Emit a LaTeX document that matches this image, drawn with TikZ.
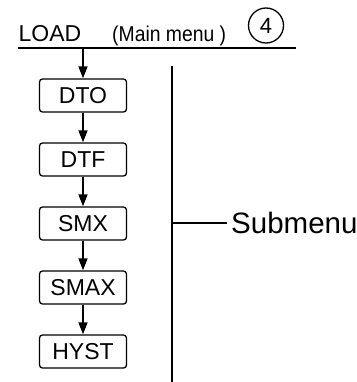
\documentclass[tikz,border=0pt]{standalone}
\usepackage{fontspec}
\setmainfont{Liberation Sans}
\newfontfamily\narrowfont{Liberation Sans}[FakeStretch=0.9]
\usetikzlibrary{arrows.meta}
\begin{document}
\begin{tikzpicture}[x=1pt,y=-1pt,
  menubox/.style={draw, line width=1.3pt, rounded corners=3pt, minimum width=87pt, minimum height=33pt, inner sep=0pt, font=\fontsize{23}{25}\selectfont},
  flow/.style={line width=1.5pt, -{Triangle[length=12pt,width=9pt]}},
  rule/.style={line width=1.5pt}]
\useasboundingbox (0,0) rectangle (356,382);
% header
\node[anchor=base west, inner sep=0pt, font=\fontsize{23}{24}\selectfont] (load) at (18.5,41.5) {LOAD};
\node[anchor=base west, inner sep=0pt, font=\narrowfont\fontsize{21.5}{23}\selectfont] (mm) at (112,41.5) {(Main menu )};
\node[circle, draw, line width=1.3pt, minimum size=35pt, inner sep=0pt, font=\fontsize{22}{24}\selectfont] (four) at (266,25.5) {4};
\coordinate (ml) at (18,48);
\coordinate (mr) at (296,48);
\draw[rule] (ml) -- (mr);
% boxes
\node[menubox] (dto) at (83,95.5) {DTO};
\node[menubox] (dtf) at (83,159.5) {DTF};
\node[menubox] (smx) at (83,223.5) {SMX};
\node[menubox] (smax) at (83,287.5) {SMAX};
\node[menubox] (hyst) at (83,351.5) {HYST};
\coordinate (start) at (83,48);
\draw[flow] (start) -- (dto.north);
\draw[flow] (dto) -- (dtf);
\draw[flow] (dtf) -- (smx);
\draw[flow] (smx) -- (smax);
\draw[flow] (smax) -- (hyst);
% submenu bracket
\coordinate (vt) at (172,66);
\coordinate (vb) at (172,382);
\coordinate (tk) at (172,223);
\draw[rule] (vt) -- (vb);
\node[anchor=west, inner xsep=4pt, inner ysep=0pt, font=\fontsize{29.5}{31}\selectfont] (sub) at (227,223) {Submenu};
\draw[rule] (tk) -- (sub.west);
\end{tikzpicture}
\end{document}
